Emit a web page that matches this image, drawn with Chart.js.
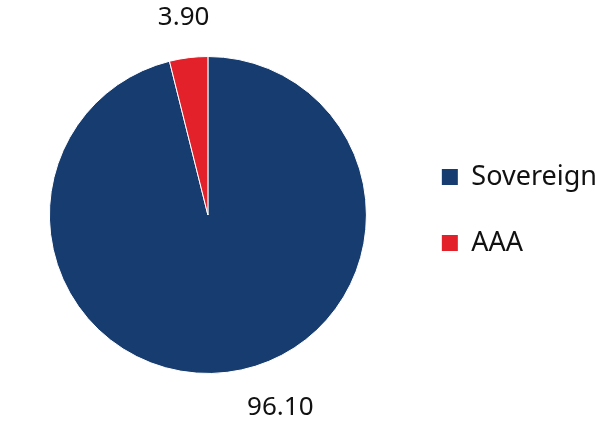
<!DOCTYPE html>
<html>
<head>
<meta charset="utf-8">
<script src="https://cdn.jsdelivr.net/npm/chart.js@4"></script>
<style>
  html, body { margin: 0; padding: 0; background: #fff; }
  #wrap { width: 611px; height: 421px; position: relative; }
</style>
</head>
<body>
<div id="wrap"><canvas id="pieChart"></canvas></div>
<script>
// Données du graphique
const categories = ['Sovereign', 'AAA'];
const values = [96.10, 3.90];
const valueLabels = ['96.10', '3.90'];
const sliceColors = ['#173c6f', '#e3212a'];

// Placement des étiquettes : décalage angulaire (degrés) et distance au bord
const labelNudge = [-13.6, 0];
const labelOffset = [47, 40];

// Étiquettes de valeur à l'extérieur du camembert
const outsideLabels = {
    id: 'outsideLabels',
    afterLayout(chart) {
        // remonte légèrement la légende comme dans l'original
        if (chart.legend) {
            chart.legend.top -= 5;
            chart.legend.bottom -= 5;
        }
    },
    afterDatasetsDraw(chart) {
        const ctx = chart.ctx;
        const meta = chart.getDatasetMeta(0);
        ctx.save();
        ctx.font = '26px "Noto Sans"';
        ctx.fillStyle = '#111';
        ctx.textAlign = 'center';
        ctx.textBaseline = 'middle';
        meta.data.forEach((arc, i) => {
            const p = arc.getProps(['x', 'y', 'startAngle', 'endAngle', 'outerRadius'], true);
            const a = (p.startAngle + p.endAngle) / 2 + labelNudge[i] * Math.PI / 180;
            const r = p.outerRadius + labelOffset[i];
            ctx.fillText(valueLabels[i], p.x + Math.cos(a) * r, p.y + Math.sin(a) * r);
        });
        ctx.restore();
    }
};

const ctx = document.getElementById('pieChart').getContext('2d');
new Chart(ctx, {
    type: 'pie',
    data: {
        labels: categories,
        datasets: [{
            data: values,
            backgroundColor: sliceColors,
            borderColor: '#ffffff',
            borderWidth: 1
        }]
    },
    options: {
        responsive: true,
        maintainAspectRatio: false,
        animation: false,
        layout: {
            padding: { left: 13, right: 4, top: 56, bottom: 47 }
        },
        plugins: {
            tooltip: { enabled: false },
            legend: {
                position: 'right',
                align: 'center',
                labels: {
                    boxWidth: 16,
                    boxHeight: 16,
                    padding: 39,
                    color: '#111',
                    font: { family: '"Noto Sans"', size: 27 },
                    generateLabels(chart) {
                        const items = Chart.overrides.pie.plugins.legend.labels.generateLabels(chart);
                        items.forEach(it => { it.lineWidth = 0; });
                        return items;
                    }
                }
            }
        }
    },
    plugins: [outsideLabels]
});
</script>
</body>
</html>
